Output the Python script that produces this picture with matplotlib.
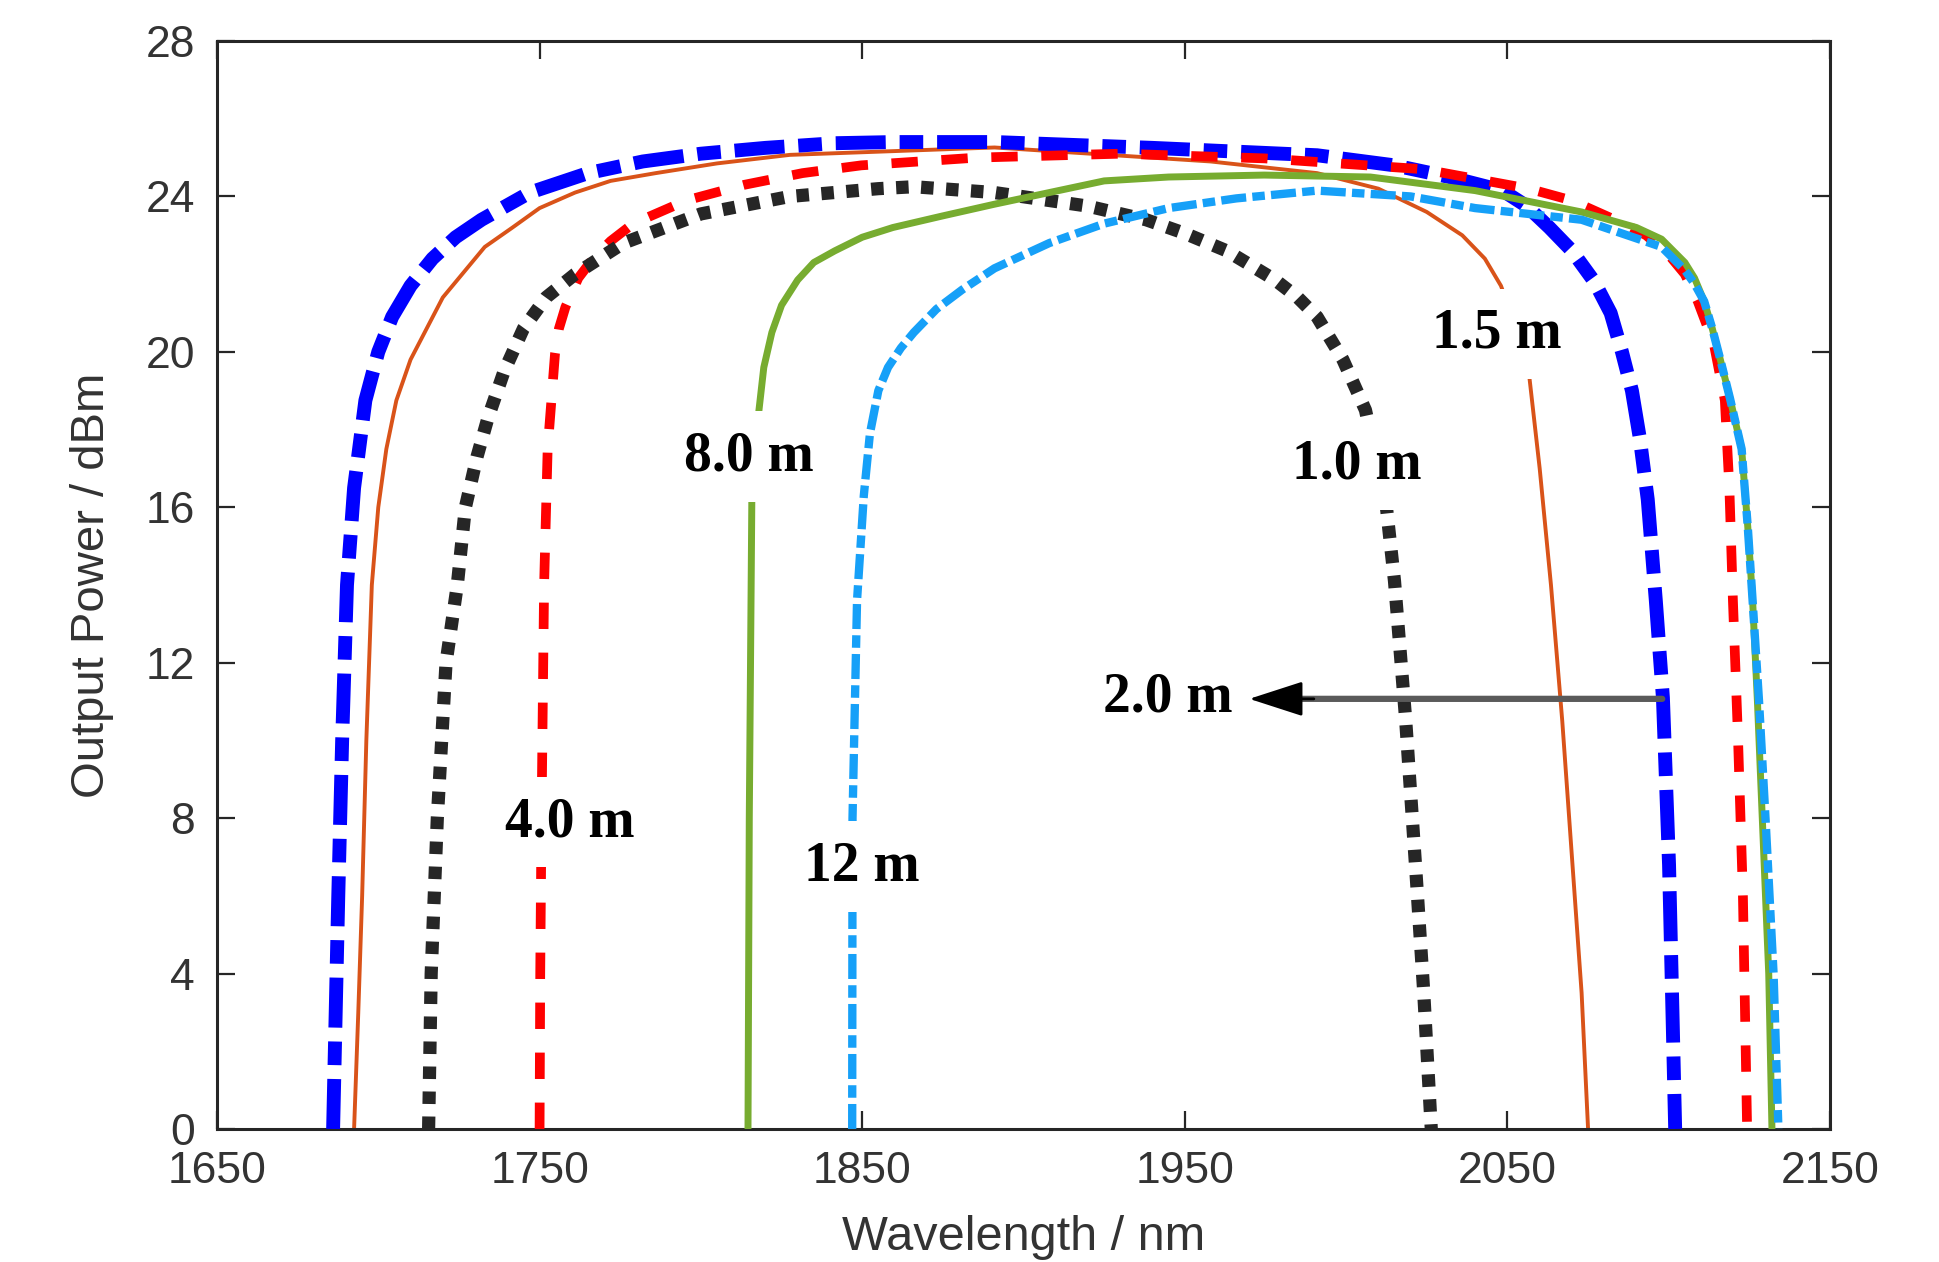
import matplotlib
matplotlib.use("Agg")
import matplotlib.pyplot as plt

plt.rcParams['font.family'] = ['Liberation Sans', 'DejaVu Sans']
plt.rcParams['lines.scale_dashes'] = False

# fibre length curves: wavelength (nm) and output power (dBm)
wl_2m = [1686, 1686.8, 1687.6, 1688.8, 1690.3, 1692.5, 1696, 1700, 1704.3, 1710, 1716.8, 1724, 1732, 1747,
         1765, 1782, 1800, 1820, 1841.5, 1860, 1891, 1940, 1991, 2015, 2032, 2048.5, 2056, 2063, 2070,
         2077, 2082, 2085.5, 2088.6, 2091, 2093.5, 2096, 2098.2, 2100.1, 2102]
p_2m = [0, 3, 6, 10, 14, 16.5, 18.75, 20, 20.9, 21.7, 22.4, 22.95, 23.4, 24.1,
        24.6, 24.9, 25.1, 25.25, 25.37, 25.4, 25.4, 25.25, 25.06, 24.8, 24.5, 24.15, 23.75, 23.2, 22.6,
        21.8, 21.0, 20.0, 19.0, 17.8, 16.2, 13.6, 11.1, 6.8, 0]

wl_15m = [1692.5, 1693.8, 1695, 1696.3, 1698, 1700, 1702.5, 1705.6, 1710, 1715, 1720, 1726, 1733, 1741.6,
          1750, 1761, 1772, 1786, 1805, 1827.6, 1891, 1958, 1991, 2010, 2025, 2036, 2043, 2048, 2052,
          2056.6, 2060, 2063.5, 2067, 2070, 2073, 2075]
p_15m = [0, 3, 6, 10, 14, 16, 17.5, 18.75, 19.8, 20.6, 21.4, 22.0, 22.7, 23.2,
         23.7, 24.1, 24.4, 24.6, 24.85, 25.07, 25.26, 24.9, 24.6, 24.2, 23.6, 23.0, 22.4, 21.7, 20.8,
         19.5, 17, 14, 10.5, 7, 3.5, 0]

wl_4m = [1750, 1750.2, 1750.6, 1751.4, 1752.5, 1754.8, 1756, 1758, 1762, 1766.6, 1772, 1779, 1795.6, 1813.5,
         1831.5, 1849.7, 1885.7, 1930, 1974.6, 2024, 2056.6, 2069.8, 2086, 2093, 2100, 2105, 2109, 2114,
         2117.4, 2118.8, 2119.9, 2121.5, 2123, 2124.3]
p_4m = [0, 4, 8, 14, 17.5, 19.97, 20.6, 21.15, 21.9, 22.4, 22.85, 23.3, 23.9, 24.3,
        24.6, 24.8, 25.0, 25.1, 24.98, 24.7, 24.2, 23.9, 23.3, 23.0, 22.5, 22.0, 21.3, 20.2,
        18.75, 16.5, 13.6, 10, 6, 0]

wl_1m = [1715.6, 1716.4, 1718.3, 1721, 1724.5, 1727, 1730.6, 1734, 1739, 1745, 1752, 1761, 1776, 1800,
         1827.6, 1855, 1866, 1891, 1920, 1938, 1950, 1963, 1978, 1985, 1991, 1999, 2006, 2012.5, 2015,
         2018.4, 2021.5, 2024, 2026.4]
p_1m = [0, 4, 8, 12, 14, 16, 17.3, 18.3, 19.5, 20.6, 21.4, 22.0, 22.8, 23.55,
        24.0, 24.2, 24.25, 24.1, 23.75, 23.4, 23.05, 22.6, 21.85, 21.4, 20.9, 19.8, 18.5, 16.0, 14.1,
        10.6, 6.8, 3.6, 0]

wl_8m = [1814.6, 1815, 1815.8, 1818, 1819.5, 1822, 1825, 1830, 1835, 1841.5, 1850, 1859.5, 1875, 1891,
         1908, 1925, 1945, 1974.6, 2007.5, 2040, 2073, 2090, 2097.8, 2105, 2108, 2111, 2113.5, 2116,
         2119, 2122.6, 2124.5, 2126, 2127.5, 2129, 2131, 2132]
p_8m = [0, 8, 16.3, 18.5, 19.6, 20.5, 21.2, 21.85, 22.3, 22.6, 22.95, 23.2, 23.5, 23.8,
        24.1, 24.4, 24.5, 24.55, 24.5, 24.15, 23.6, 23.2, 22.9, 22.3, 21.9, 21.3, 20.6, 19.8,
        18.8, 17.5, 15.5, 13.6, 11, 8, 4, 0]

wl_12m = [1846.9, 1847, 1848.4, 1850.5, 1852.4, 1855, 1858, 1862, 1866, 1873, 1881, 1891, 1908, 1925,
          1945, 1966, 1991, 2020, 2040, 2073, 2097.8, 2105, 2108, 2111, 2113.5, 2116, 2119, 2122.6,
          2124.5, 2126, 2128, 2130, 2132.5, 2134]
p_12m = [0, 8, 13.6, 16.3, 17.9, 19.0, 19.6, 20.1, 20.5, 21.1, 21.6, 22.15, 22.8, 23.3,
         23.7, 23.95, 24.15, 24.0, 23.7, 23.4, 22.7, 22.1, 21.75, 21.3, 20.6, 19.8, 18.8, 17.5,
         15.5, 13.6, 11, 8, 4, 0]

labels = ["1.5 m", "1.0 m", "8.0 m", "4.0 m", "12 m", "2.0 m"]
label_x = [2046.8, 2003.4, 1815, 1759.4, 1850, 1944.7]
label_y = [20.46, 17.1, 17.3, 7.9, 6.75, 11.1]

arrow_tail = (2098, 11.07)
arrow_tip = (1970, 11.07)

fig = plt.figure(figsize=(19.39, 12.62), dpi=100)
ax = fig.add_axes([0.1119, 0.1054, 0.8319, 0.8621])

ax.plot(wl_15m, p_15m, color='#D95319', lw=2.8, zorder=2, solid_joinstyle='round')
ax.plot(wl_2m, p_2m, color='#0000FF', lw=10, linestyle=(0, (36, 10, 17, 10)), zorder=3,
        dash_joinstyle='round')
ax.plot(wl_4m, p_4m, color='#FF0000', lw=7, linestyle=(0, (19, 17)), zorder=4, dash_joinstyle='round')
ax.plot(wl_1m, p_1m, color='#262626', lw=9.5, linestyle=(0, (9, 9)), zorder=5)
ax.plot(wl_8m, p_8m, color='#77AC30', lw=5, zorder=6, solid_joinstyle='round')
ax.plot(wl_12m, p_12m, color='#16A0F8', lw=6, linestyle=(0, (18, 4.5, 9, 4.5)), zorder=7,
        dash_joinstyle='round')

for t, x, y in zip(labels, label_x, label_y):
    ax.text(x, y, t, ha='center', va='center', fontsize=40, fontweight='bold',
            family=['Liberation Serif', 'DejaVu Serif'], zorder=10,
            bbox=dict(boxstyle='square,pad=0.35', fc='white', ec='none'))

# arrow: gray shaft, black head
ax.annotate('', xy=(arrow_tip[0] + 10, arrow_tip[1]), xytext=arrow_tail,
            arrowprops=dict(arrowstyle='-', color='#5a5a5a', lw=4.5, shrinkA=0, shrinkB=0), zorder=11)
ax.annotate('', xy=arrow_tip, xytext=(arrow_tip[0] + 20, arrow_tip[1]),
            arrowprops=dict(arrowstyle='-|>,head_length=3.4,head_width=1.1', color='black',
                            lw=2, shrinkA=0, shrinkB=0), zorder=12)

ax.set_xlim(1650, 2150)
ax.set_ylim(0, 28)
ax.set_xticks(range(1650, 2151, 100))
ax.set_yticks(range(0, 29, 4))
ax.tick_params(direction='in', length=13, width=1.6, top=True, right=True,
               labelsize=32, labelcolor='#333333', color='#262626', pad=16)
for s in ax.spines.values():
    s.set_linewidth(2.2)
    s.set_color('#262626')

ax.set_xlabel('Wavelength / nm', fontsize=35, color='#333333')
ax.set_ylabel('Output Power / dBm', fontsize=34, color='#333333')
ax.xaxis.set_label_coords(0.5, -0.079)
ax.yaxis.set_label_coords(-0.064, 0.5)

fig.savefig('out.png', dpi=100)
